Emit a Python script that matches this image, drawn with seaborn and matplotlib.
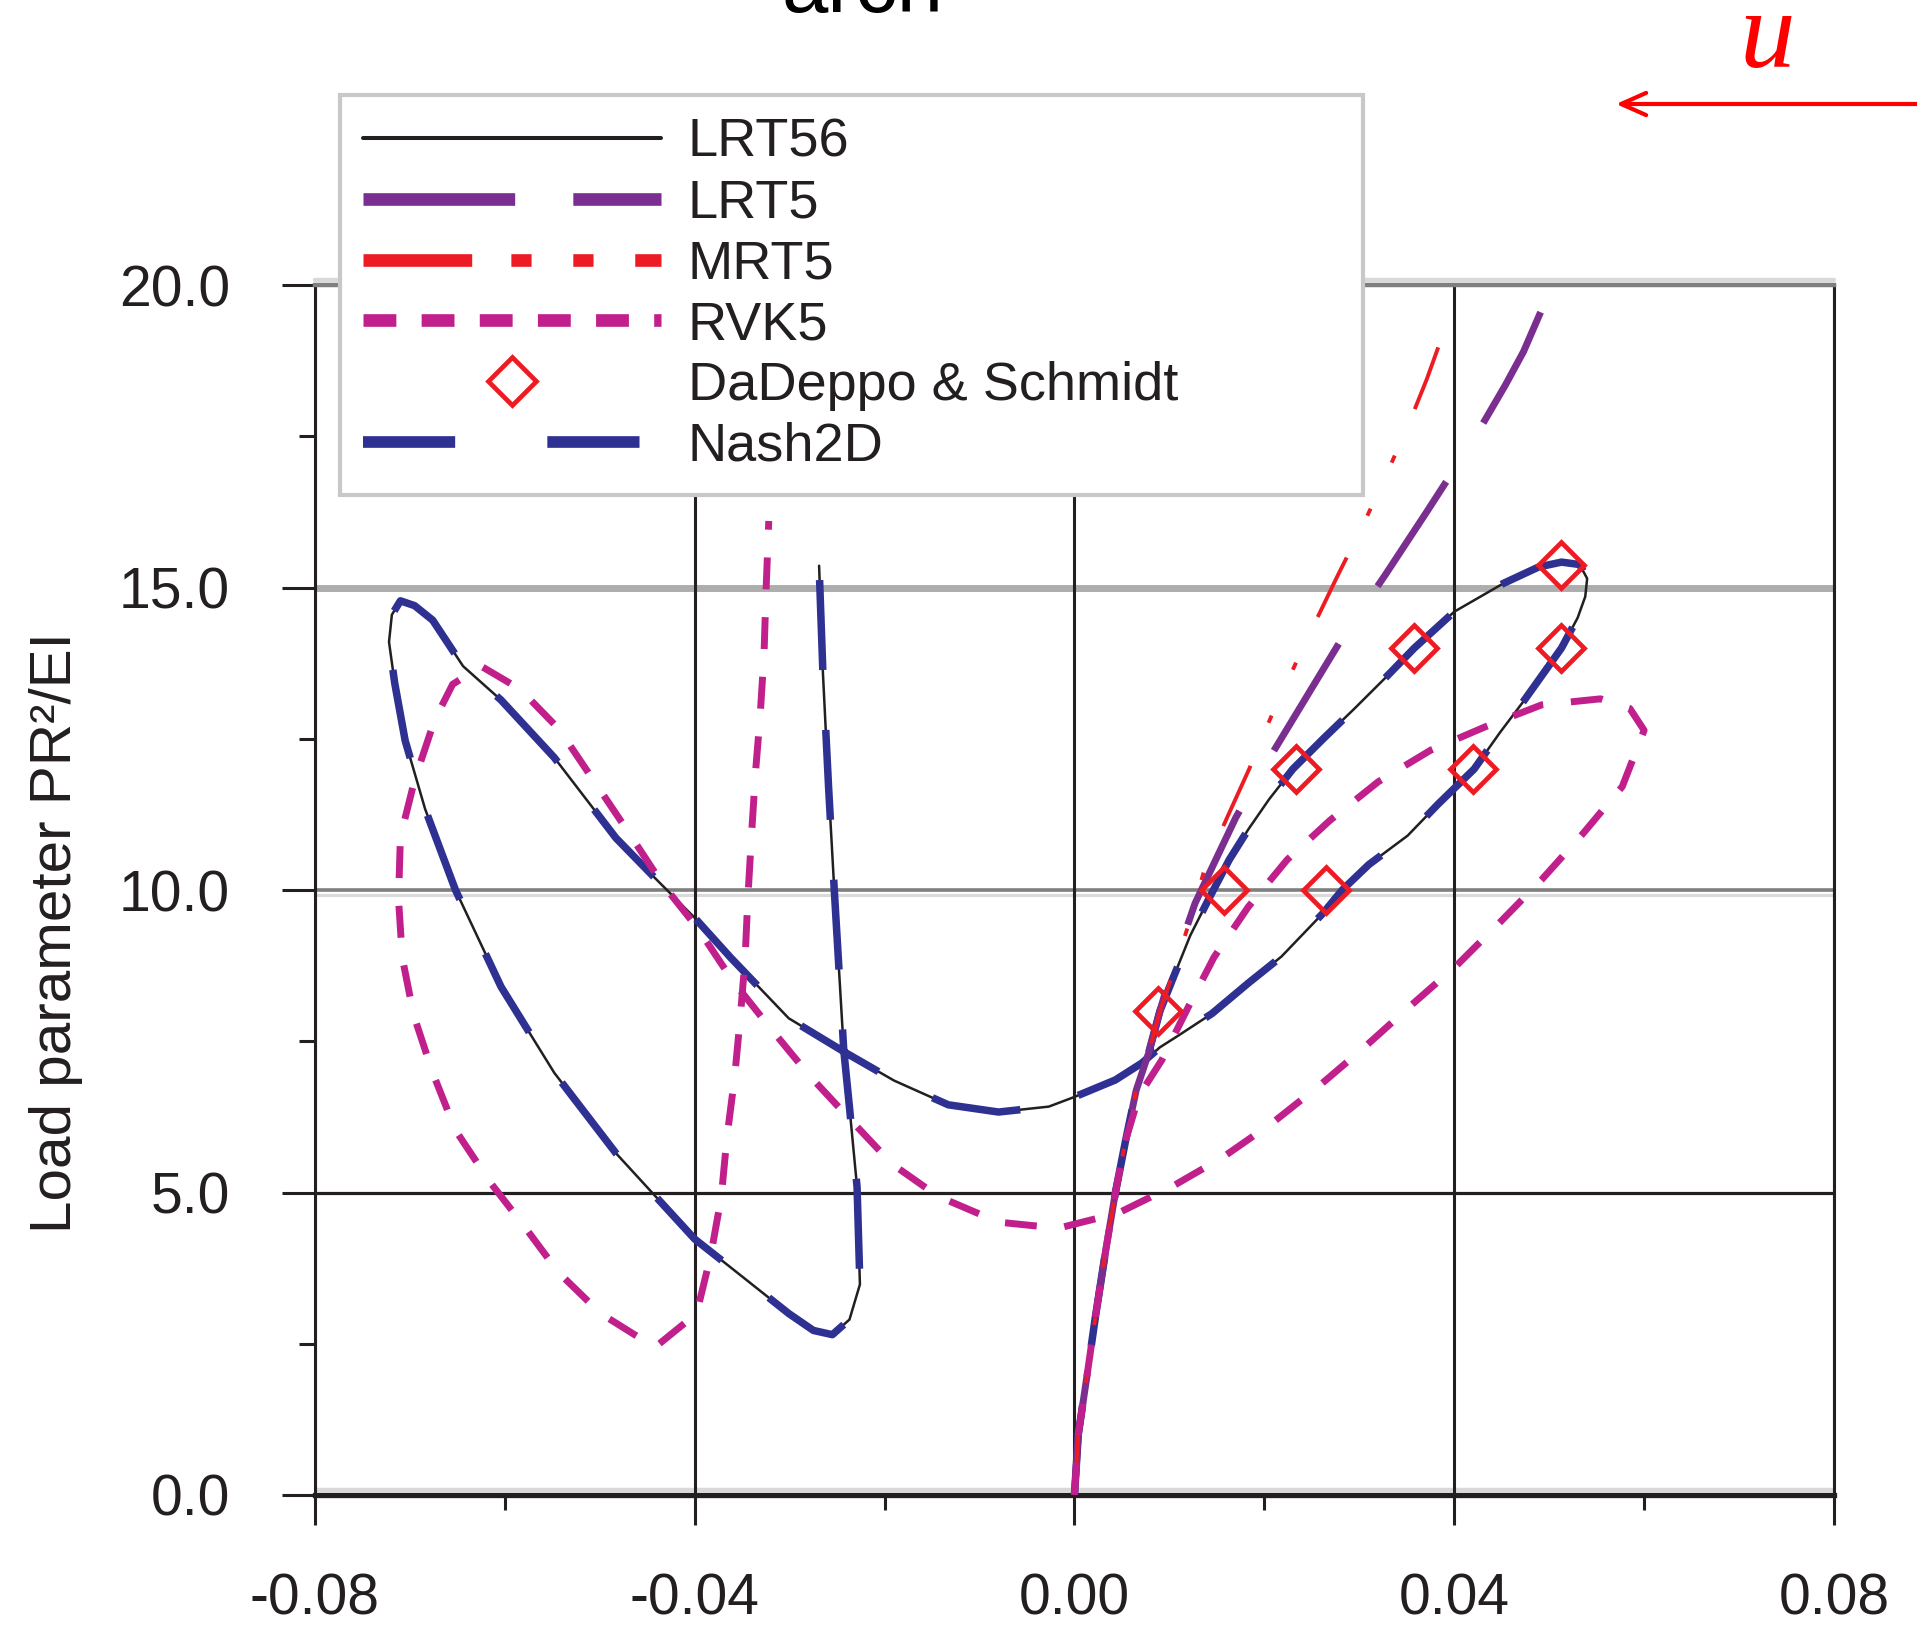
import matplotlib
matplotlib.use("Agg")
import matplotlib.pyplot as plt
from matplotlib.lines import Line2D
import seaborn as sns

# ---------------- data ----------------
lrt56_x = [0.0, 0.0004, 0.0013, 0.0022, 0.0033, 0.0043, 0.0054, 0.0065, 0.0078, 0.0090,
           0.0104, 0.0122, 0.0143, 0.0163, 0.0183, 0.0205, 0.0230, 0.0262, 0.0295, 0.0327,
           0.0358, 0.0400, 0.0452, 0.0489, 0.0513, 0.0532, 0.0540, 0.0538, 0.0530, 0.0513,
           0.0473, 0.0448, 0.0421, 0.0383, 0.0351, 0.0310, 0.0282, 0.0262, 0.0218, 0.0183,
           0.0145, 0.0110, 0.0090, 0.0071, 0.0043, 0.0, -0.0027, -0.0080, -0.0133, -0.0190,
           -0.0241, -0.0301, -0.0362, -0.0400, -0.0442, -0.0483, -0.0548, -0.0604, -0.0644,
           -0.0676, -0.0695, -0.0710, -0.0719, -0.0722, -0.0716, -0.0705, -0.0684, -0.0652,
           -0.0604, -0.0548, -0.0483, -0.0400, -0.0362, -0.0301, -0.0275, -0.0255, -0.0237,
           -0.0226, -0.0229, -0.0237, -0.0243, -0.0253, -0.0259, -0.0265, -0.0269]
lrt56_y = [0.0, 1.0, 1.95, 2.94, 4.05, 4.99, 5.87, 6.69, 7.3, 8.0,
           8.55, 9.25, 9.9, 10.5, 11.0, 11.5, 12.0, 12.5, 13.0, 13.5,
           14.0, 14.6, 15.07, 15.34, 15.42, 15.38, 15.15, 14.85, 14.5, 14.0,
           13.12, 12.6, 12.0, 11.42, 10.9, 10.42, 10.0, 9.62, 8.9, 8.46,
           7.96, 7.6, 7.4, 7.14, 6.86, 6.58, 6.42, 6.33, 6.45, 6.85,
           7.31, 7.88, 8.88, 9.54, 10.2, 10.86, 12.19, 13.14, 13.7,
           14.46, 14.7, 14.78, 14.55, 14.1, 13.42, 12.47, 11.34, 10.0,
           8.4, 6.98, 5.65, 4.23, 3.76, 3.0, 2.72, 2.65, 2.9,
           3.48, 5.09, 6.41, 7.35, 10.0, 11.7, 13.6, 15.36]

nash_x = list(lrt56_x)
nash_y = list(lrt56_y)

lrt5_x = [0.0, 0.0004, 0.0013, 0.0022, 0.0033, 0.0043, 0.0054, 0.0065, 0.0078, 0.0090,
          0.0101, 0.0127, 0.0170, 0.0208, 0.0247, 0.0283, 0.0327, 0.0371, 0.0406, 0.0428,
          0.0454, 0.0473, 0.0497]
lrt5_y = [0.0, 1.0, 1.95, 2.94, 4.05, 4.99, 5.87, 6.69, 7.3, 8.0,
          8.6, 9.78, 11.2, 12.25, 13.26, 14.19, 15.2, 16.25, 17.1, 17.65,
          18.35, 18.9, 19.77]

mrt5_x = [0.0, 0.0004, 0.0013, 0.0022, 0.0033, 0.0043, 0.0054, 0.0065, 0.0078, 0.0090,
          0.0106, 0.0123, 0.0138, 0.0162, 0.0184, 0.0207, 0.0242, 0.0277, 0.0305, 0.0326,
          0.0351, 0.0371, 0.0393]
mrt5_y = [0.0, 1.0, 1.95, 2.94, 4.05, 4.99, 5.87, 6.69, 7.3, 8.0,
          8.73, 9.57, 10.4, 11.24, 12.0, 12.86, 14.05, 15.19, 16.07, 16.78,
          17.66, 18.44, 19.4]

rvk5_x = [0.0, 0.0004, 0.0013, 0.0022, 0.0033, 0.0043, 0.0054, 0.0068, 0.0092, 0.0120,
          0.0147, 0.0183, 0.0224, 0.0269, 0.0320, 0.0375, 0.0433, 0.0492, 0.0554, 0.0585,
          0.0600, 0.0577, 0.0536, 0.0492, 0.0449, 0.0403, 0.0355, 0.0306, 0.0259, 0.0210,
          0.0157, 0.0103, 0.0046, -0.0017, -0.0080, -0.0144, -0.0192, -0.0237, -0.0279,
          -0.0321, -0.0360, -0.0396, -0.0434, -0.0470, -0.0506, -0.0543, -0.0584, -0.0625,
          -0.0655, -0.0674, -0.0695, -0.0710, -0.0712, -0.0708, -0.0696, -0.0676, -0.0652,
          -0.0616, -0.0579, -0.0543, -0.0499, -0.0442, -0.0398, -0.0383, -0.0372, -0.0366,
          -0.0358, -0.0352, -0.0347, -0.0344, -0.0340, -0.0336, -0.0331, -0.0327, -0.0325,
          -0.0322]
rvk5_y = [0.0, 1.0, 1.95, 2.94, 4.05, 4.99, 5.87, 6.6, 7.19, 8.07,
          8.89, 9.72, 10.5, 11.15, 11.79, 12.31, 12.7, 13.06, 13.16, 13.0,
          12.64, 11.71, 10.94, 10.17, 9.48, 8.76, 8.1, 7.41, 6.78, 6.17,
          5.59, 5.1, 4.66, 4.41, 4.51, 4.94, 5.47, 6.22, 6.93,
          7.73, 8.5, 9.35, 10.1, 10.96, 11.8, 12.66, 13.32, 13.7,
          13.4, 12.81, 11.82, 10.88, 9.85, 8.88, 7.93, 6.98, 6.03,
          5.18, 4.43, 3.67, 3.0, 2.44, 3.0, 3.97, 4.93, 5.92,
          6.9, 7.9, 8.85, 9.88, 10.95, 11.94, 12.9, 13.9, 14.9,
          16.1]

dd_x = [0.0088, 0.0158, 0.0265, 0.0233, 0.0420, 0.0358, 0.0512, 0.0512]
dd_y = [8.0, 10.0, 10.0, 12.0, 12.0, 14.0, 14.0, 15.37]

series_names = ["LRT56", "LRT5", "MRT5", "RVK5", "DaDeppo & Schmidt", "Nash2D"]
xticks = [-0.08, -0.04, 0.0, 0.04, 0.08]
xticklabels = ["-0.08", "-0.04", "0.00", "0.04", "0.08"]
xminor = [-0.06, -0.02, 0.02, 0.06]
yticks = [0, 5, 10, 15, 20]
yticklabels = ["0.0", "5.0", "10.0", "15.0", "20.0"]
yminor = [2.5, 7.5, 12.5, 17.5]
ylabel = "Load parameter PR\u00b2/EI"
title_text = "arch"
u_text = "u"

# ---------------- style ----------------
sns.set_style("white")
plt.rcParams["font.family"] = ["Liberation Sans", "DejaVu Sans"]

C_BLACK = "#231f20"
C_BLUE = "#2e3192"
C_PURPLE = "#7a2e90"
C_RED = "#ed1c24"
C_MAG = "#c1208c"

fig = plt.figure(figsize=(19.17, 16.25), dpi=100)
ax = fig.add_axes([0.1643, 0.08, 0.7924, 0.7446])

# horizontal reference lines (as in the original image)
ax.axhline(5, color=C_BLACK, lw=2.3, zorder=0.5)
ax.axhline(10, color="#7f7f7f", lw=2.6, zorder=0.5)
ax.axhline(9.92, color="#dadada", lw=2.2, zorder=0.4)
ax.axhline(15, color="#adadad", lw=5.0, zorder=0.5)
ax.axhline(20.09, color="#d9d9d9", lw=3.2, zorder=0.4, clip_on=False)
ax.axhline(0.09, color="#d9d9d9", lw=3.2, zorder=0.4)
ax.grid(axis="x", which="major", color=C_BLACK, linewidth=2.2)
ax.grid(axis="y", visible=False)
ax.set_axisbelow(True)

# curves
sns.lineplot(x=lrt56_x, y=lrt56_y, sort=False, estimator=None, ax=ax,
             color=C_BLACK, linewidth=1.8, zorder=2)
sns.lineplot(x=nash_x, y=nash_y, sort=False, estimator=None, ax=ax,
             color=C_BLUE, linewidth=5.4, linestyle=(0, (12, 8)), zorder=3)
sns.lineplot(x=lrt5_x, y=lrt5_y, sort=False, estimator=None, ax=ax,
             color=C_PURPLE, linewidth=5.0, linestyle=(0, (18, 10)), zorder=4)
sns.lineplot(x=mrt5_x, y=mrt5_y, sort=False, estimator=None, ax=ax,
             color=C_RED, linewidth=2.8, linestyle=(0, (17, 12, 2, 13, 2, 13)), zorder=5)
sns.lineplot(x=rvk5_x, y=rvk5_y, sort=False, estimator=None, ax=ax,
             color=C_MAG, linewidth=5.0, linestyle=(0, (4.6, 4.0)), zorder=6)
sns.lineplot(x=dd_x, y=dd_y, sort=False, estimator=None, ax=ax,
             marker="D", linestyle="none", markersize=23,
             markerfacecolor="none", markeredgecolor=C_RED, markeredgewidth=3.4,
             color=C_RED, zorder=7)

# axes
ax.set_xlim(-0.08, 0.08)
ax.set_ylim(0, 20)
ax.set_xticks(xticks)
ax.set_xticklabels(xticklabels)
ax.set_xticks(xminor, minor=True)
ax.set_yticks(yticks)
ax.set_yticklabels(yticklabels)
ax.set_yticks(yminor, minor=True)
ax.tick_params(axis="x", which="major", direction="out", length=21.6, width=2.2,
               color=C_BLACK, pad=34, labelsize=41, labelcolor=C_BLACK, bottom=True)
ax.tick_params(axis="x", which="minor", direction="out", length=11, width=2.2,
               color=C_BLACK, bottom=True)
ax.tick_params(axis="y", which="major", direction="out", length=24, width=2.2,
               color=C_BLACK, pad=37, labelsize=41, labelcolor=C_BLACK, left=True)
ax.tick_params(axis="y", which="minor", direction="out", length=11.5, width=2.2,
               color=C_BLACK, left=True)

for side in ["left", "right"]:
    ax.spines[side].set_color(C_BLACK)
    ax.spines[side].set_linewidth(2.2)
ax.spines["bottom"].set_color(C_BLACK)
ax.spines["bottom"].set_linewidth(3.8)
ax.spines["top"].set_color("#7f7f7f")
ax.spines["top"].set_linewidth(3.2)
for s in ax.spines.values():
    s.set_visible(True)

ax.set_xlabel("")
ax.set_ylabel(ylabel, fontsize=42, color=C_BLACK)
ax.yaxis.set_label_coords(-0.153, 0.465)

# legend
handles = [
    Line2D([], [], color=C_BLACK, lw=2.9),
    Line2D([], [], color=C_PURPLE, lw=9.1, linestyle=(0, (12, 4.6))),
    Line2D([], [], color=C_RED, lw=9.1, linestyle=(0, (8.6, 3.1, 1.6, 3.3, 1.6, 3.3))),
    Line2D([], [], color=C_MAG, lw=9.1, linestyle=(0, (2.6, 2.0))),
    Line2D([], [], color=C_RED, linestyle="none", marker="D", markersize=24,
           markerfacecolor="none", markeredgecolor=C_RED, markeredgewidth=3.4),
    Line2D([], [], color=C_BLUE, lw=8.4, linestyle=(0, (7.9, 7.9))),
]
leg = ax.legend(handles, series_names, loc="upper left",
                bbox_to_anchor=(0.1774, 0.699, 0.5336, 0.2425),
                bbox_transform=fig.transFigure, mode="expand", borderaxespad=0,
                frameon=True, fancybox=False, framealpha=1, edgecolor="#c8c8c8",
                fontsize=39, handlelength=5.5, handletextpad=0.5,
                labelspacing=0.2, borderpad=0.42)
leg.get_frame().set_linewidth(3)
leg.set_zorder(10)
for t in leg.get_texts():
    t.set_color(C_BLACK)

# annotations outside the axes
fig.text(0.45, 1 - 12 / 1625, title_text, fontsize=60, ha="center", va="baseline",
         color="black")
fig.text(0.922, 0.9588, u_text, color="red", fontsize=80, ha="center", va="baseline",
         family=["Liberation Serif", "DejaVu Serif"], style="italic")
ax.annotate("", xy=(1616 / 1917, 0.936), xytext=(1.0, 0.936),
            xycoords="figure fraction", textcoords="figure fraction",
            arrowprops=dict(arrowstyle="->,head_length=0.9,head_width=0.4",
                            color="red", lw=3, mutation_scale=20,
                            shrinkA=0, shrinkB=0))

fig.savefig("out.png", dpi=100)
